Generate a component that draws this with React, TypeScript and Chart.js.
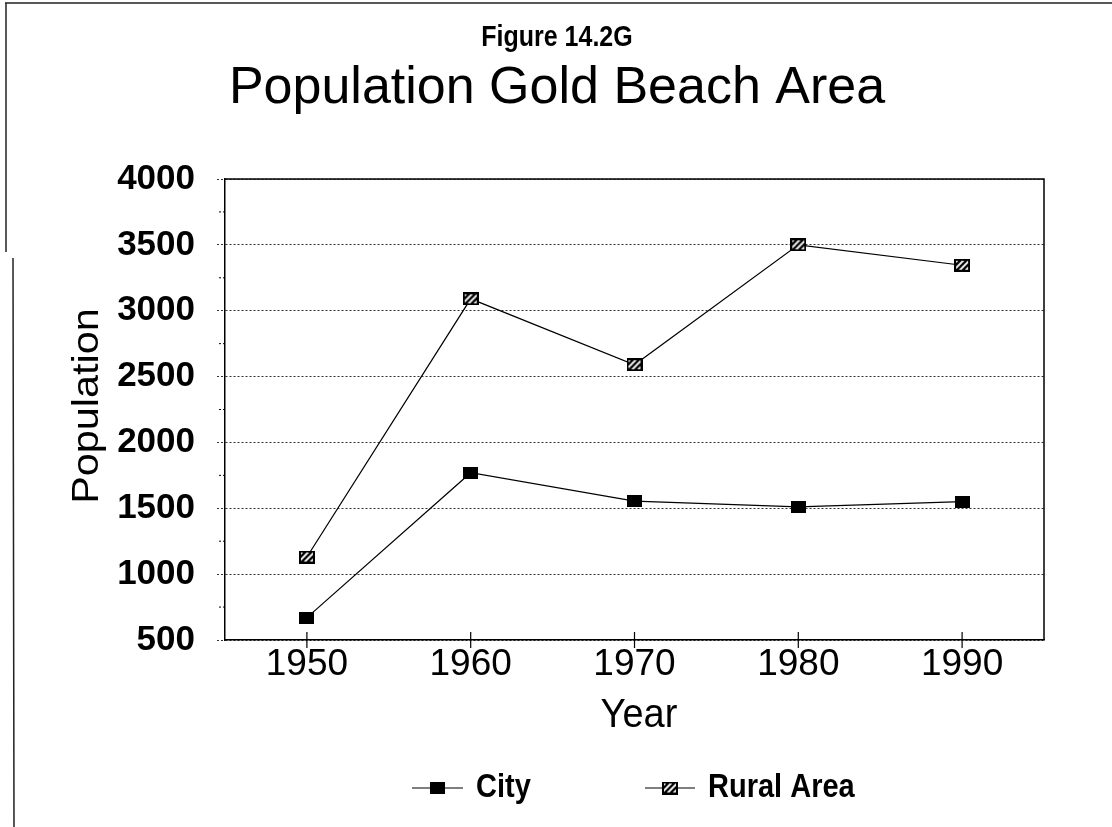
import React, { useEffect, useRef } from "react";
import { Chart, registerables } from "chart.js";

Chart.register(...registerables);

const years = ["1950", "1960", "1970", "1980", "1990"];
const cityValues = [670, 1770, 1555, 1510, 1550];
const ruralValues = [1130, 3090, 2590, 3500, 3345];
const yTicks = [500, 1000, 1500, 2000, 2500, 3000, 3500, 4000];
const yMinorTicks = [750, 1250, 1750, 2250, 2750, 3250, 3750];
const figureLabel = "Figure 14.2G";
const chartTitle = "Population Gold Beach Area";
const yTitle = "Population";
const xTitle = "Year";
const seriesNames = ["City", "Rural Area"];

const FONT = '"Liberation Sans", Arial, Helvetica, sans-serif';

function makeCityMarker(): HTMLCanvasElement {
  const c = document.createElement("canvas");
  c.width = 15;
  c.height = 12;
  const g = c.getContext("2d")!;
  g.fillStyle = "#000";
  g.fillRect(0, 0, 15, 12);
  return c;
}

function makeRuralMarker(): HTMLCanvasElement {
  const w = 16, h = 13;
  const c = document.createElement("canvas");
  c.width = w;
  c.height = h;
  const g = c.getContext("2d")!;
  g.fillStyle = "#fff";
  g.fillRect(0, 0, w, h);
  g.save();
  g.beginPath();
  g.rect(0, 0, w, h);
  g.clip();
  g.strokeStyle = "#000";
  g.lineWidth = 2.4;
  for (let k = -2; k <= 3; k++) {
    const x0 = 1 + k * 6;
    g.beginPath();
    g.moveTo(x0, h);
    g.lineTo(x0 + h, 0);
    g.stroke();
  }
  g.restore();
  g.strokeStyle = "#000";
  g.lineWidth = 2;
  g.strokeRect(1, 1, w - 2, h - 2);
  return c;
}

function drawText(
  ctx: CanvasRenderingContext2D,
  text: string,
  x: number,
  y: number,
  font: string,
  align: CanvasTextAlign,
  sy = 1,
  baseline: CanvasTextBaseline = "alphabetic"
) {
  ctx.save();
  ctx.translate(x, y);
  ctx.scale(1, sy);
  ctx.font = font;
  ctx.fillStyle = "#000";
  ctx.textAlign = align;
  ctx.textBaseline = baseline;
  ctx.fillText(text, 0, 0);
  ctx.restore();
}

export default function App() {
  const ref = useRef<HTMLCanvasElement | null>(null);

  useEffect(() => {
    const canvas = ref.current;
    if (!canvas) return;
    const cityMarker = makeCityMarker();
    const ruralMarker = makeRuralMarker();

    const decor = {
      id: "decor",
      afterDraw(chart: any) {
        const ctx: CanvasRenderingContext2D = chart.ctx;
        const a = chart.chartArea;
        const xs = chart.scales.x;
        const ys = chart.scales.y;
        ctx.save();
        // page border
        ctx.strokeStyle = "#222";
        ctx.lineWidth = 1.5;
        ctx.beginPath();
        ctx.moveTo(5, 3);
        ctx.lineTo(1112, 3);
        ctx.moveTo(6, 3);
        ctx.lineTo(6, 252);
        ctx.moveTo(13, 258);
        ctx.lineTo(14, 827);
        ctx.stroke();

        // plot frame top/right
        ctx.strokeStyle = "#000";
        ctx.lineWidth = 1.5;
        ctx.beginPath();
        ctx.moveTo(a.left, a.top);
        ctx.lineTo(a.right, a.top);
        ctx.lineTo(a.right, a.bottom);
        ctx.stroke();

        // x tick marks crossing axis
        ctx.lineWidth = 1.2;
        ctx.beginPath();
        years.forEach((_, i) => {
          const px = xs.getPixelForValue(i);
          ctx.moveTo(px, a.bottom - 8);
          ctx.lineTo(px, a.bottom + 8);
        });
        ctx.stroke();

        // y minor ticks
        ctx.setLineDash([2, 2]);
        ctx.lineWidth = 1;
        ctx.beginPath();
        yMinorTicks.forEach((v) => {
          const py = ys.getPixelForValue(v);
          ctx.moveTo(a.left - 6, py);
          ctx.lineTo(a.left, py);
        });
        ctx.stroke();
        ctx.setLineDash([]);

        // titles
        drawText(ctx, figureLabel, 557, 46, `bold 25px ${FONT}`, "center", 1.15);
        drawText(ctx, chartTitle, 557, 103, `52px ${FONT}`, "center", 1);
        drawText(ctx, xTitle, 639, 727, `38px ${FONT}`, "center", 1.05);

        // y title rotated
        ctx.save();
        ctx.translate(88, 406);
        ctx.rotate(-Math.PI / 2);
        ctx.scale(1.15, 1);
        ctx.font = `36px ${FONT}`;
        ctx.fillStyle = "#000";
        ctx.textAlign = "center";
        ctx.textBaseline = "middle";
        ctx.fillText(yTitle, 0, 0);
        ctx.restore();

        // legend
        const ly = 788;
        ctx.strokeStyle = "#000";
        ctx.lineWidth = 1.2;
        ctx.beginPath();
        ctx.moveTo(412, ly);
        ctx.lineTo(463, ly);
        ctx.moveTo(645, ly);
        ctx.lineTo(695, ly);
        ctx.stroke();
        ctx.drawImage(cityMarker, 437 - cityMarker.width / 2, ly - cityMarker.height / 2);
        ctx.drawImage(ruralMarker, 670 - ruralMarker.width / 2, ly - ruralMarker.height / 2);
        drawText(ctx, seriesNames[0], 476, 797, `bold 29px ${FONT}`, "left", 1.15);
        drawText(ctx, seriesNames[1], 708, 797, `bold 29px ${FONT}`, "left", 1.15);
        ctx.restore();
      },
    };

    const chart = new Chart(canvas, {
      type: "line",
      data: {
        labels: years,
        datasets: [
          {
            label: seriesNames[0],
            data: cityValues,
            borderColor: "#000",
            borderWidth: 1.2,
            backgroundColor: "#000",
            pointStyle: cityMarker as any,
            pointRadius: 8,
            tension: 0,
          },
          {
            label: seriesNames[1],
            data: ruralValues,
            borderColor: "#000",
            borderWidth: 1.2,
            backgroundColor: "#fff",
            pointStyle: ruralMarker as any,
            pointRadius: 8,
            tension: 0,
          },
        ],
      },
      options: {
        animation: false,
        responsive: false,
        maintainAspectRatio: false,
        layout: { padding: { top: 179, right: 68, left: 0, bottom: 0 } },
        plugins: {
          legend: { display: false },
          title: { display: false },
          tooltip: { enabled: false },
        },
        scales: {
          x: {
            type: "category",
            offset: true,
            grid: { display: false, drawTicks: false, tickLength: 0 },
            border: { display: true, color: "#000", width: 1.5 },
            ticks: {
              color: "#000",
              font: { family: FONT, size: 37 },
              padding: 3,
              maxRotation: 0,
            },
            afterFit(scale: any) {
              scale.height = 187;
            },
          },
          y: {
            type: "linear",
            min: 500,
            max: 4000,
            afterBuildTicks(scale: any) {
              scale.ticks = yTicks.map((v) => ({ value: v }));
            },
            grid: {
              display: true,
              color: "#333",
              lineWidth: 1,
              drawTicks: true,
              tickLength: 8,
              tickColor: "#333",
              tickBorderDash: [2, 2],
            },
            border: { display: true, color: "#000", width: 1.5, dash: [2, 2] },
            ticks: {
              color: "#000",
              font: { family: FONT, size: 35, weight: "bold" },
              padding: 22,
              callback: (v: any) => String(v),
            },
            afterFit(scale: any) {
              scale.width = 225;
            },
          },
        },
      },
      plugins: [decor],
    } as any);

    return () => chart.destroy();
  }, []);

  return (
    <div style={{ position: "fixed", left: 0, top: 0, width: 1112, height: 827, background: "#fff" }}>
      <canvas ref={ref} width={1112} height={827} style={{ display: "block", width: 1112, height: 827 }} />
    </div>
  );
}
